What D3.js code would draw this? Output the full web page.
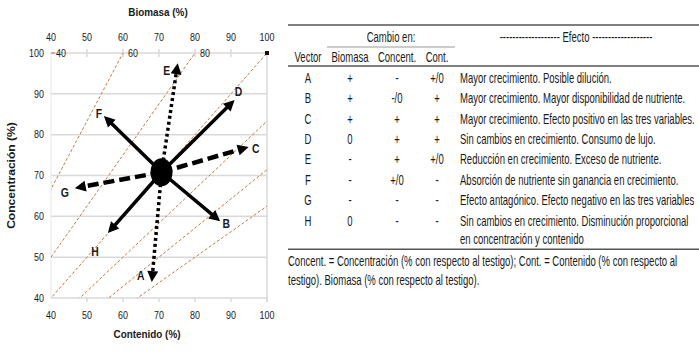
<!DOCTYPE html>
<html>
<head>
<meta charset="utf-8">
<script src="https://cdn.jsdelivr.net/npm/d3@7"></script>
<style>
  body { margin: 0; background: #fff; }
  svg { display: block; }
  text { font-family: "Liberation Sans", Arial, sans-serif; fill: #1a1a1a; }
</style>
</head>
<body>
<svg width="699" height="355"></svg>
<script>
// chart values
const contentTicks = [40, 50, 60, 70, 80, 90, 100];
const concTicks = [40, 50, 60, 70, 80, 90, 100];
const biomassTicks = [40, 50, 60, 70, 80, 90, 100];
const isoBiomass = [40, 60, 80, 100, 120, 140, 160];
const isoLabels = [40, 60, 80];
const origin = { cont: 70.7, conc: 70.8 };
const vectorNames = ["A", "B", "C", "D", "E", "F", "G", "H"];
const vectorCont = [68, 87, 94.9, 91, 75.2, 54.7, 46.6, 55.8];
const vectorConc = [43.9, 58.8, 77, 88.5, 97.5, 84.6, 66.9, 55.9];

// table values
const biomasaChange = ["+", "+", "+", "0", "-", "-", "-", "0"];
const concentChange = ["-", "-/0", "+", "+", "+", "+/0", "-", "-"];
const contChange = ["+/0", "+", "+", "+", "+/0", "-", "-", "-"];
const effects = [
  ["Mayor crecimiento. Posible dilución."],
  ["Mayor crecimiento. Mayor disponibilidad de nutriente."],
  ["Mayor crecimiento. Efecto positivo en las tres variables."],
  ["Sin cambios en crecimiento. Consumo de lujo."],
  ["Reducción en crecimiento. Exceso de nutriente."],
  ["Absorción de nutriente sin ganancia en crecimiento."],
  ["Efecto antagónico. Efecto negativo en las tres variables"],
  ["Sin cambios en crecimiento. Disminución proporcional", "en concentración y contenido"]
];
const footnote = [
  "Concent. = Concentración (% con respecto al testigo); Cont. = Contenido (% con respecto al",
  "testigo). Biomasa (% con respecto al testigo)."
];

const svg = d3.select("svg");

const x = d3.scaleLinear().domain([40, 100]).range([51, 267]);
const y = d3.scaleLinear().domain([40, 100]).range([298, 53]);

const chart = svg.append("g");

// narrow text helper
function label(g, tx, ty, str, opts = {}) {
  return g.append("text")
    .attr("transform", `translate(${tx},${ty}) scale(${opts.sx || 1},1)`)
    .attr("text-anchor", opts.anchor || "middle")
    .attr("dominant-baseline", "central")
    .style("font-size", (opts.size || 10) + "px")
    .style("font-weight", opts.weight || "normal")
    .text(str);
}

// grid
chart.append("g").selectAll("line")
  .data(concTicks)
  .join("line")
  .attr("x1", x(40)).attr("x2", x(100))
  .attr("y1", d => y(d)).attr("y2", d => y(d))
  .attr("stroke", "#d9d9d9").attr("stroke-width", 1.5);

chart.append("line")
  .attr("x1", x(100)).attr("x2", x(100))
  .attr("y1", y(100)).attr("y2", y(40) + 4)
  .attr("stroke", "#d9d9d9").attr("stroke-width", 1.5);
chart.append("line")
  .attr("x1", x(40)).attr("x2", x(40))
  .attr("y1", y(100)).attr("y2", y(40))
  .attr("stroke", "#e6e6e6").attr("stroke-width", 1);

// ticks
chart.append("g").selectAll("line")
  .data(contentTicks.slice(1))
  .join("line")
  .attr("x1", d => x(d)).attr("x2", d => x(d))
  .attr("y1", y(40)).attr("y2", y(40) + 4)
  .attr("stroke", "#d9d9d9").attr("stroke-width", 1.5);
chart.append("g").selectAll("line")
  .data(biomassTicks.slice(1, -1))
  .join("line")
  .attr("x1", d => x(d)).attr("x2", d => x(d))
  .attr("y1", y(100) - 4).attr("y2", y(100) + 4)
  .attr("stroke", "#d9d9d9").attr("stroke-width", 1.5);

// iso-biomass lines: conc = cont * 100 / biomass
svg.append("defs").append("clipPath").attr("id", "plot")
  .append("rect")
  .attr("x", x(40)).attr("y", y(100))
  .attr("width", x(100) - x(40)).attr("height", y(40) - y(100));

chart.append("g").attr("clip-path", "url(#plot)")
  .selectAll("line")
  .data(isoBiomass)
  .join("line")
  .attr("x1", x(0)).attr("y1", y(0))
  .attr("x2", d => x(d * 1.2)).attr("y2", d => y(120))
  .attr("stroke", "#c87941").attr("stroke-width", 1)
  .attr("stroke-dasharray", "3,2");

chart.append("line")
  .attr("x1", x(40)).attr("x2", x(40) + 4)
  .attr("y1", y(100)).attr("y2", y(100))
  .attr("stroke", "#c87941").attr("stroke-width", 1);

isoLabels.forEach(b => label(chart, x(b) + 5, y(100), b, { anchor: "start", size: 10.5, sx: 0.85 }));

chart.append("rect")
  .attr("x", x(100) - 2).attr("y", y(100) - 2)
  .attr("width", 4).attr("height", 4)
  .attr("fill", "#111");

// axis labels
contentTicks.forEach(d => label(chart, x(d), 315, d, { size: 10.5, sx: 0.85 }));
concTicks.forEach(d => label(chart, 44, y(d), d, { anchor: "end", size: 10.5, sx: 0.85 }));
biomassTicks.forEach(d => label(chart, x(d), 37, d, { size: 10.5, sx: 0.85 }));

label(chart, 158, 12, "Biomasa (%)", { size: 11, weight: "bold", sx: 0.9 });
label(chart, 147, 334, "Contenido (%)", { size: 11, weight: "bold", sx: 0.9 });
chart.append("text")
  .attr("transform", `translate(11,${y(70)}) rotate(-90) scale(1.1,1)`)
  .attr("text-anchor", "middle")
  .attr("dominant-baseline", "central")
  .style("font-size", "11px")
  .style("font-weight", "bold")
  .text("Concentración (%)");

// vectors
const vectorStyle = { A: "dot", E: "dot", C: "dash", G: "dash" };
const labelOffset = {
  A: [-11, -7], B: [6, 2], C: [7, 1], D: [4, -9],
  E: [-11, 7], F: [-5, -3], G: [-10, 4], H: [-13, 18]
};

const ox = x(origin.cont), oy = y(origin.conc);
const vectors = vectorNames.map((n, i) => ({ name: n, cont: vectorCont[i], conc: vectorConc[i] }));

const vg = chart.append("g");
vectors.forEach(v => {
  const ex = x(v.cont), ey = y(v.conc);
  const dx = ex - ox, dy = ey - oy;
  const len = Math.hypot(dx, dy);
  const ux = dx / len, uy = dy / len;
  const head = 11, half = 5.5;
  const bx = ex - ux * head, by = ey - uy * head;
  const style = vectorStyle[v.name] || "solid";

  vg.append("line")
    .attr("x1", ox).attr("y1", oy)
    .attr("x2", bx + ux * 1).attr("y2", by + uy * 1)
    .attr("stroke", "#000")
    .attr("stroke-width", style === "dash" ? 4.5 : 3.5)
    .attr("stroke-dasharray", style === "dot" ? "3,3" : style === "dash" ? "11,5" : null);

  vg.append("polygon")
    .attr("points", [
      [ex, ey],
      [bx - uy * half, by + ux * half],
      [bx + uy * half, by - ux * half]
    ].map(p => p.join(",")).join(" "))
    .attr("fill", "#000");

  const off = labelOffset[v.name];
  label(vg, ex + off[0], ey + off[1], v.name, { size: 13, weight: "bold", sx: 0.8 });
});

vg.append("ellipse")
  .attr("cx", ox).attr("cy", oy)
  .attr("rx", 11).attr("ry", 14)
  .attr("fill", "#000");

// table
const t = svg.append("g");
const sx = 0.635, fs = 15;
const colX = { vec: 308, bio: 350, conc: 397, cont: 437, eff: 460 };
const rowY0 = 78, rowH = 20.4;

t.append("line").attr("x1", 288).attr("x2", 699).attr("y1", 25).attr("y2", 25)
  .attr("stroke", "#555").attr("stroke-width", 1.5);
label(t, 391, 37, "Cambio en:", { size: fs, sx });
t.append("line").attr("x1", 327).attr("x2", 455).attr("y1", 47).attr("y2", 47)
  .attr("stroke", "#999").attr("stroke-width", 1);
label(t, 576, 37, "------------------- Efecto -------------------", { size: fs, sx });
label(t, colX.vec, 57, "Vector", { size: fs, sx });
label(t, colX.bio, 57, "Biomasa", { size: fs, sx });
label(t, colX.conc, 57, "Concent.", { size: fs, sx });
label(t, colX.cont, 57, "Cont.", { size: fs, sx });
t.append("line").attr("x1", 288).attr("x2", 699).attr("y1", 66).attr("y2", 66)
  .attr("stroke", "#555").attr("stroke-width", 1.5);

vectorNames.forEach((n, i) => {
  const ry = rowY0 + i * rowH;
  label(t, colX.vec, ry, n, { size: fs, sx });
  label(t, colX.bio, ry, biomasaChange[i], { size: fs, sx });
  label(t, colX.conc, ry, concentChange[i], { size: fs, sx });
  label(t, colX.cont, ry, contChange[i], { size: fs, sx });
  effects[i].forEach((line, j) => label(t, colX.eff, ry + j * 18.5, line, { size: fs, sx, anchor: "start" }));
});

const lastY = rowY0 + 7 * rowH + 18.5;
t.append("line").attr("x1", 288).attr("x2", 699).attr("y1", lastY + 10).attr("y2", lastY + 10)
  .attr("stroke", "#555").attr("stroke-width", 1.5);
footnote.forEach((line, j) => label(t, 288, lastY + 22 + j * 19, line, { size: fs, sx, anchor: "start" }));
</script>
</body>
</html>
